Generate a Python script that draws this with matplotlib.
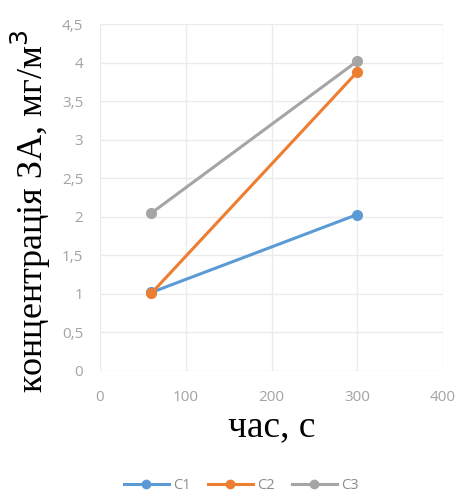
import matplotlib
matplotlib.use("Agg")
import matplotlib.pyplot as plt
from matplotlib.ticker import FixedLocator, FixedFormatter

# data
t = [60, 300]
c1 = [1.02, 2.03]
c2 = [1.01, 3.88]
c3 = [2.05, 4.02]
names = ["C1", "C2", "C3"]
colors = ["#5B9BD5", "#ED7D31", "#A5A5A5"]
yticks = [0, 0.5, 1, 1.5, 2, 2.5, 3, 3.5, 4, 4.5]
ylabels = ["0", "0,5", "1", "1,5", "2", "2,5", "3", "3,5", "4", "4,5"]
xticks = [0, 100, 200, 300, 400]

fig = plt.figure(figsize=(4.61, 4.93), dpi=100)
ax = fig.add_axes([0.217, 0.2475, 0.744, 0.7035])

for ys, nm, col in zip([c1, c2, c3], names, colors):
    ax.plot(t, ys, color=col, lw=2.2, marker="o", ms=7, label=nm)

ax.set_xlim(0, 400)
ax.set_ylim(0, 4.5)
ax.xaxis.set_major_locator(FixedLocator(xticks))
ax.yaxis.set_major_locator(FixedLocator(yticks))
ax.yaxis.set_major_formatter(FixedFormatter(ylabels))
ax.grid(True, color="#EBEBEB", lw=1)
ax.set_axisbelow(True)
for s in ax.spines.values():
    s.set_visible(False)
ax.tick_params(length=0, labelsize=11, labelcolor="#A3A3A3")
ax.tick_params(axis="x", pad=14)
ax.tick_params(axis="y", pad=12)
for lb in ax.get_xticklabels() + ax.get_yticklabels():
    lb.set_family("Open Sans")

ax.set_ylabel("концентрація ЗА, мг/м$^3$", family="Liberation Serif",
              fontsize=26)
ax.yaxis.set_label_coords(-0.137, 0.46)
ax.set_xlabel("час, с", family="Liberation Serif", fontsize=27, labelpad=3)

leg = fig.legend(loc="center", bbox_to_anchor=(0.523, 0.016), ncol=3,
                 frameon=False, handlelength=3.1, columnspacing=1.2,
                 handletextpad=0.25, prop={"family": "Open Sans", "size": 10.5})
for tx in leg.get_texts():
    tx.set_color("#8C8C8C")
for h in leg.legend_handles:
    h.set_markersize(6)

fig.savefig("out.png", dpi=100)
